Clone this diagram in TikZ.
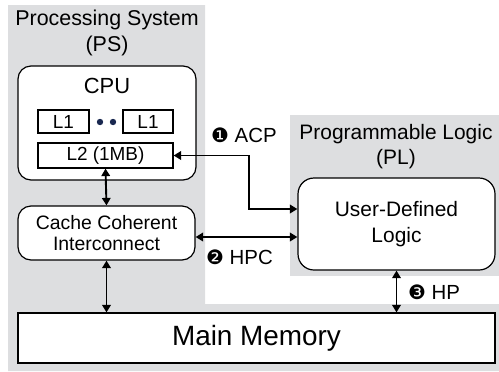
\documentclass[tikz,border=0pt]{standalone}
\usepackage{fontspec}
\setmainfont{Liberation Sans}
\newfontfamily\dingfont{DejaVu Sans}
\usetikzlibrary{arrows.meta}
\definecolor{bggray}{RGB}{221,222,224}
\definecolor{dotblue}{RGB}{25,40,80}
\newcommand{\fs}[2]{\fontsize{#1}{#2}\selectfont}

\begin{document}
\begin{tikzpicture}[x=1bp, y=-1bp,
    box/.style={draw, fill=white, line width=1.2bp, inner sep=0pt, align=center},
    rbox/.style={box, rounded corners=13bp},
    link/.style={line width=1.9bp, {Triangle[length=7.5bp,width=8.5bp]}-{Triangle[length=7.5bp,width=8.5bp]}},
    tag/.style={anchor=west, inner sep=0pt, font=\fs{20.5}{24}}]
  \useasboundingbox (0,0) rectangle (499,371);
  \fill[bggray] (8,5) -- (205,5) -- (205,304) -- (499,304) -- (499,371) -- (8,371) -- cycle;
  \fill[bggray] (290,115) rectangle (499,276);

  \node[align=center, font=\fs{21.5}{26}] (pstitle) at (107,33) {Processing System\\(PS)};
  \node[align=center, font=\fs{21}{25}] (pltitle) at (396,147) {Programmable Logic\\(PL)};

  \node[rbox, minimum width=178bp, minimum height=114bp] (cpu) at (107,123) {};
  \node[font=\fs{22}{26}] (cpulabel) at (107,86) {CPU};
  \node[box, minimum width=51bp, minimum height=23bp, font=\fs{19}{22}] (l1a) at (63.5,121.5) {L1};
  \node[box, minimum width=50bp, minimum height=23bp, font=\fs{19}{22}] (l1b) at (148,121.5) {L1};
  \foreach \x in {100,113}
    \fill[dotblue] (\x,122) circle (3.2bp);
  \node[box, minimum width=135bp, minimum height=25bp, font=\fs{19}{22}] (l2) at (105.5,155.5) {L2 (1MB)};

  \node[rbox, minimum width=177bp, minimum height=54bp, font=\fs{19.5}{21}] (cci) at (106.5,233) {Cache Coherent\\Interconnect};
  \node[rbox, rounded corners=16bp, minimum width=197bp, minimum height=92bp, font=\fs{21}{26}] (udl) at (396.5,224) {User-Defined\\Logic};
  \node[box, minimum width=477bp, minimum height=50bp, font=\fs{28}{32}] (mem) at (256.5,338) {Main Memory};

  \coordinate (acp) at (249,209);
  \coordinate (hpc) at (250,237);
  \draw[link] (l2.south) -- (cci.north);
  \draw[link] (cci.south) -- (cci.south |- mem.north);
  \draw[link] (udl.south) -- (udl.south |- mem.north);
  \draw[link] (l2.east) -| (acp) -- (acp -| udl.west);
  \draw[link] (hpc -| cci.east) -- (hpc -| udl.west);

  \node[tag] (acptag) at (211,135) {{\dingfont\fs{20}{24}❶} ACP};
  \node[tag] (hpctag) at (206,257) {{\dingfont\fs{20}{24}❷} HPC};
  \node[tag] (hptag) at (408,292) {{\dingfont\fs{20}{24}❸} HP};
\end{tikzpicture}
\end{document}
